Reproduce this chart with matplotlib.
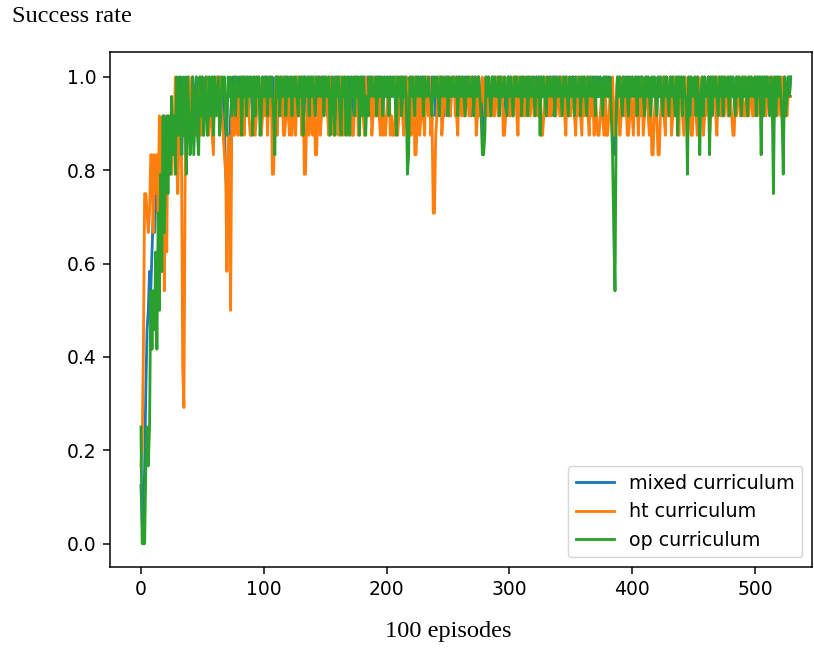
import matplotlib
matplotlib.use("Agg")
import matplotlib.pyplot as plt
import numpy as np

# successes out of 24 evaluation runs, one entry per block of 100 episodes
N_EVAL = 24

mixed_ok = [
    3, 1, 0, 4, 8, 11, 12, 14, 13, 15, 17, 16, 18, 19, 17, 20, 21, 19, 20, 22, 21, 20, 19, 19, 21,
    22, 20, 21, 22, 23, 21, 22, 24, 22, 21, 23, 20, 22, 23, 24, 22, 23, 24, 22, 23, 24, 23, 22, 24, 23,
    24, 22, 23, 24, 23, 24, 23, 22, 24, 23, 24, 22, 24, 23, 24, 23, 24, 22, 21, 19, 18, 18, 20, 22, 23,
    24, 23, 24, 23, 22, 24, 23, 24, 23, 24, 22, 23, 24, 23, 24, 23, 22, 24, 23, 24, 23, 24, 23, 22, 24,
    23, 24, 24, 22, 23, 24, 23, 24, 22, 23, 24, 24, 23, 22, 24, 23, 24, 23, 24, 22, 24, 23, 24, 23, 22,
    24, 23, 24, 22, 24, 23, 24, 23, 24, 24, 22, 23, 24, 23, 24, 22, 24, 23, 24, 23, 24, 22, 24, 23, 24,
    23, 24, 22, 24, 23, 24, 23, 22, 24, 23, 24, 23, 24, 22, 24, 23, 24, 22, 23, 24, 23, 24, 22, 23, 24,
    24, 23, 24, 22, 23, 24, 24, 23, 24, 22, 24, 23, 24, 23, 24, 23, 22, 24, 23, 24, 24, 23, 22, 24, 23,
    24, 23, 22, 24, 23, 24, 23, 24, 22, 24, 23, 24, 23, 24, 23, 22, 24, 23, 21, 22, 24, 23, 24, 23, 24,
    23, 24, 23, 24, 22, 24, 23, 24, 23, 24, 22, 23, 24, 23, 24, 22, 24, 23, 24, 23, 24, 23, 22, 24, 23,
    24, 23, 22, 24, 23, 24, 23, 24, 22, 24, 23, 24, 23, 22, 24, 23, 24, 23, 24, 22, 24, 23, 24, 23, 24,
    24, 22, 23, 22, 21, 22, 24, 23, 24, 23, 22, 24, 23, 24, 23, 24, 22, 24, 23, 24, 23, 24, 22, 23, 24,
    23, 24, 23, 22, 24, 23, 24, 23, 24, 22, 24, 23, 24, 23, 24, 22, 24, 23, 24, 23, 24, 22, 24, 23, 24,
    22, 24, 23, 24, 23, 22, 24, 23, 24, 23, 24, 22, 24, 23, 24, 23, 24, 22, 23, 24, 23, 24, 23, 22, 24,
    23, 24, 24, 22, 24, 23, 24, 23, 22, 24, 23, 24, 23, 23, 24, 23, 24, 22, 24, 23, 24, 23, 24, 23, 24,
    23, 22, 24, 23, 24, 23, 24, 23, 22, 22, 20, 21, 22, 24, 23, 24, 23, 22, 24, 23, 24, 23, 24, 23, 23,
    24, 23, 23, 24, 22, 24, 23, 24, 24, 23, 22, 24, 23, 24, 23, 22, 24, 23, 24, 23, 22, 24, 23, 24, 23,
    22, 24, 23, 24, 23, 22, 24, 23, 24, 23, 22, 24, 22, 24, 23, 24, 22, 24, 23, 23, 21, 24, 22, 24, 23,
    23, 24, 22, 24, 23, 22, 23, 24, 22, 24, 23, 23, 24, 22, 24, 22, 24, 23, 24, 23, 22, 24, 23, 24, 22,
    24, 23, 23, 24, 22, 24, 23, 24, 23, 22, 24, 23, 24, 23, 22, 24, 23, 24, 23, 22, 24, 23, 24, 23, 23,
    24, 22, 24, 23, 24, 22, 24, 22, 24, 23, 24, 23, 22, 24, 23, 21, 24, 22, 24, 23, 24, 23, 22, 21, 24,
    23, 23, 24, 23, 24,
]

ht_ok = [
    4, 5, 10, 18, 18, 17, 16, 17, 20, 20, 16, 20, 18, 20, 17, 22, 21, 14, 22, 13, 19, 15, 22, 19, 20,
    19, 22, 21, 24, 20, 18, 21, 23, 20, 9, 7, 19, 22, 21, 24, 22, 23, 24, 21, 22, 21, 23, 22, 24, 21,
    22, 21, 23, 22, 24, 21, 23, 22, 21, 20, 24, 23, 24, 22, 24, 23, 22, 21, 20, 19, 14, 21, 20, 12, 22,
    23, 21, 24, 22, 21, 23, 21, 22, 24, 21, 23, 22, 24, 22, 21, 21, 22, 24, 21, 22, 23, 24, 22, 21, 22,
    23, 22, 24, 21, 23, 22, 24, 19, 19, 22, 24, 21, 24, 22, 22, 24, 21, 21, 22, 24, 22, 21, 24, 21, 22,
    23, 21, 24, 22, 22, 23, 21, 24, 19, 19, 22, 24, 21, 22, 23, 21, 24, 20, 20, 22, 24, 21, 22, 24, 22,
    23, 24, 22, 21, 22, 24, 22, 21, 23, 24, 22, 21, 24, 22, 23, 21, 24, 22, 22, 21, 23, 22, 21, 21, 23,
    22, 24, 21, 22, 24, 23, 22, 21, 24, 22, 23, 22, 24, 21, 22, 24, 22, 22, 24, 22, 21, 23, 21, 22, 21,
    22, 23, 24, 21, 22, 21, 21, 22, 24, 21, 22, 23, 24, 22, 21, 22, 24, 23, 22, 24, 21, 22, 24, 20, 20,
    22, 24, 21, 22, 24, 22, 21, 24, 23, 22, 24, 21, 22, 17, 17, 21, 22, 24, 22, 24, 21, 22, 24, 23, 22,
    24, 22, 22, 24, 23, 24, 22, 22, 21, 24, 23, 22, 24, 22, 22, 23, 24, 22, 22, 24, 23, 22, 24, 21, 22,
    24, 22, 23, 24, 23, 22, 24, 22, 24, 22, 23, 24, 22, 22, 24, 23, 22, 24, 23, 24, 21, 21, 22, 23, 24,
    22, 22, 24, 22, 23, 24, 22, 21, 24, 23, 22, 24, 22, 22, 24, 23, 24, 22, 23, 24, 22, 23, 24, 22, 22,
    24, 21, 21, 22, 23, 24, 22, 22, 24, 22, 23, 24, 22, 22, 24, 23, 22, 24, 23, 24, 22, 21, 24, 22, 22,
    22, 23, 24, 22, 21, 24, 22, 23, 22, 21, 24, 22, 23, 24, 22, 21, 24, 22, 23, 21, 23, 22, 21, 21, 22,
    23, 22, 21, 24, 21, 21, 22, 23, 22, 24, 21, 22, 23, 24, 22, 21, 22, 24, 23, 22, 23, 21, 21, 22, 23,
    22, 21, 24, 22, 23, 21, 23, 22, 24, 21, 22, 23, 24, 22, 21, 23, 20, 20, 22, 23, 22, 20, 20, 22, 23,
    24, 22, 21, 24, 22, 23, 24, 21, 22, 24, 23, 22, 24, 21, 24, 23, 22, 21, 24, 22, 23, 24, 22, 21, 21,
    23, 24, 22, 21, 24, 23, 22, 24, 21, 22, 22, 23, 24, 21, 22, 24, 23, 24, 22, 21, 24, 23, 22, 24, 22,
    22, 24, 23, 22, 24, 23, 22, 21, 21, 23, 22, 24, 23, 22, 24, 23, 22, 22, 23, 24, 22, 23, 24, 22, 22,
    24, 23, 22, 24, 23, 22, 24, 23, 24, 22, 23, 24, 23, 22, 24, 22, 22, 23, 22, 24, 23, 22, 24, 23, 24,
    23, 22, 23, 23, 23,
]

op_ok = [
    6, 0, 0, 0, 4, 6, 4, 6, 13, 10, 13, 11, 15, 10, 17, 12, 19, 14, 22, 16, 19, 22, 18, 22, 19,
    23, 20, 22, 19, 24, 21, 24, 22, 20, 24, 21, 24, 19, 24, 22, 20, 21, 24, 20, 22, 24, 21, 20, 24, 22,
    24, 21, 23, 24, 21, 22, 24, 22, 24, 21, 24, 22, 23, 24, 21, 22, 24, 23, 24, 22, 21, 24, 23, 24, 22,
    23, 24, 22, 24, 23, 23, 24, 21, 24, 23, 24, 22, 24, 23, 23, 24, 21, 24, 22, 24, 23, 24, 21, 22, 24,
    23, 23, 24, 22, 24, 23, 24, 23, 22, 20, 24, 23, 24, 22, 24, 23, 23, 24, 22, 24, 23, 23, 24, 22, 24,
    23, 24, 23, 22, 24, 23, 24, 21, 24, 23, 23, 24, 22, 24, 23, 24, 23, 22, 24, 23, 24, 23, 23, 24, 22,
    24, 23, 23, 24, 21, 22, 24, 23, 21, 24, 23, 24, 22, 21, 24, 23, 24, 21, 24, 22, 21, 24, 23, 24, 22,
    24, 23, 24, 21, 24, 22, 24, 23, 21, 23, 22, 24, 23, 24, 23, 23, 24, 22, 24, 23, 23, 24, 22, 24, 23,
    23, 24, 22, 24, 23, 23, 24, 23, 21, 24, 23, 24, 22, 24, 23, 24, 23, 19, 20, 24, 23, 24, 23, 22, 24,
    23, 24, 23, 23, 24, 22, 24, 23, 23, 24, 23, 23, 22, 24, 23, 23, 24, 23, 22, 24, 23, 24, 23, 23, 24,
    22, 24, 23, 23, 24, 23, 23, 24, 22, 24, 23, 23, 24, 23, 22, 24, 23, 24, 23, 23, 24, 22, 24, 23, 23,
    24, 23, 22, 20, 20, 21, 24, 23, 24, 23, 22, 24, 23, 24, 23, 23, 24, 22, 24, 23, 23, 24, 23, 22, 24,
    23, 24, 23, 22, 24, 23, 24, 23, 23, 24, 22, 24, 23, 23, 24, 22, 24, 23, 23, 24, 23, 22, 24, 23, 24,
    21, 24, 23, 24, 23, 22, 24, 23, 24, 23, 23, 24, 22, 24, 23, 23, 24, 23, 22, 24, 23, 24, 23, 22, 24,
    23, 23, 24, 22, 24, 23, 23, 24, 22, 24, 23, 24, 23, 22, 24, 23, 24, 23, 23, 24, 22, 24, 23, 23, 24,
    23, 22, 24, 23, 24, 23, 23, 24, 22, 20, 16, 13, 22, 24, 23, 24, 23, 22, 24, 23, 24, 23, 22, 24, 23,
    24, 23, 23, 24, 22, 24, 23, 23, 24, 23, 22, 24, 23, 24, 23, 22, 24, 23, 24, 23, 22, 24, 23, 24, 23,
    22, 24, 23, 24, 23, 22, 24, 23, 24, 23, 22, 24, 21, 24, 23, 24, 22, 24, 23, 23, 19, 24, 22, 24, 23,
    23, 24, 22, 24, 23, 20, 23, 24, 22, 24, 23, 23, 24, 20, 24, 22, 24, 23, 24, 23, 22, 24, 23, 24, 22,
    24, 23, 23, 24, 22, 24, 23, 24, 23, 22, 24, 23, 24, 23, 22, 24, 23, 24, 23, 22, 24, 23, 24, 23, 23,
    24, 22, 24, 23, 24, 20, 24, 22, 24, 23, 24, 23, 22, 24, 23, 18, 24, 22, 24, 23, 24, 23, 22, 19, 24,
    22, 23, 24, 23, 24,
]

series = [
    ("mixed curriculum", mixed_ok),
    ("ht curriculum", ht_ok),
    ("op curriculum", op_ok),
]

# the chart was exported at a larger scale, so strokes and fonts are bumped up
SCALE = 1.35
plt.rcParams.update({
    "axes.linewidth": 0.8 * SCALE,
    "xtick.major.size": 3.5 * SCALE,
    "ytick.major.size": 3.5 * SCALE,
    "xtick.major.width": 0.8 * SCALE,
    "ytick.major.width": 0.8 * SCALE,
    "xtick.major.pad": 3.5 * SCALE,
    "ytick.major.pad": 3.5 * SCALE,
})

fig = plt.figure(figsize=(8.14, 6.49), dpi=100)
ax = fig.add_axes([110 / 814, 1 - 567 / 649, 702 / 814, 515 / 649])

for label, ok in series:
    rate = np.array(ok) / N_EVAL
    ax.plot(np.arange(len(rate)), rate, label=label, linewidth=1.5 * SCALE)

ax.set_xlim(-25.2, 546.4)
ax.set_ylim(-0.05, 1.0535)
ax.set_xticks([0, 100, 200, 300, 400, 500])
ax.set_yticks([0.0, 0.2, 0.4, 0.6, 0.8, 1.0])
ax.tick_params(labelsize=10 * SCALE)
ax.legend(loc="lower right", fontsize=13.7)

serif = ["Liberation Serif", "DejaVu Serif"]
fig.text(12 / 814, 1 - 16 / 649, "Success rate", family=serif, fontsize=17.5,
         ha="left", va="center")
fig.text(448 / 814, 1 - 632 / 649, "100 episodes", family=serif, fontsize=17.6,
         ha="center", va="center")

fig.savefig("out.png", dpi=100)
